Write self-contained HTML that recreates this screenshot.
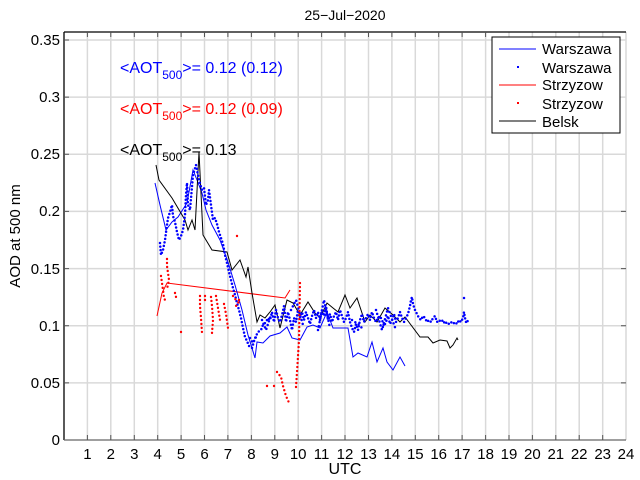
<!DOCTYPE html>
<html><head><meta charset="utf-8"><style>
body{margin:0;background:#fff}
svg{display:block;font-family:"Liberation Sans",sans-serif}
</style></head><body>
<svg width="640" height="480" viewBox="0 0 640 480">
<rect width="640" height="480" fill="#fff"/>
<g stroke="#d9d9d9" stroke-width="1.5">
<line x1="87.4" y1="32" x2="87.4" y2="440"/><line x1="110.8" y1="32" x2="110.8" y2="440"/><line x1="134.3" y1="32" x2="134.3" y2="440"/><line x1="157.7" y1="32" x2="157.7" y2="440"/><line x1="181.1" y1="32" x2="181.1" y2="440"/><line x1="204.5" y1="32" x2="204.5" y2="440"/><line x1="227.9" y1="32" x2="227.9" y2="440"/><line x1="251.4" y1="32" x2="251.4" y2="440"/><line x1="274.8" y1="32" x2="274.8" y2="440"/><line x1="298.2" y1="32" x2="298.2" y2="440"/><line x1="321.6" y1="32" x2="321.6" y2="440"/><line x1="345" y1="32" x2="345" y2="440"/><line x1="368.5" y1="32" x2="368.5" y2="440"/><line x1="391.9" y1="32" x2="391.9" y2="440"/><line x1="415.3" y1="32" x2="415.3" y2="440"/><line x1="438.7" y1="32" x2="438.7" y2="440"/><line x1="462.1" y1="32" x2="462.1" y2="440"/><line x1="485.6" y1="32" x2="485.6" y2="440"/><line x1="509" y1="32" x2="509" y2="440"/><line x1="532.4" y1="32" x2="532.4" y2="440"/><line x1="555.8" y1="32" x2="555.8" y2="440"/><line x1="579.2" y1="32" x2="579.2" y2="440"/><line x1="602.7" y1="32" x2="602.7" y2="440"/><line x1="626" y1="32" x2="626" y2="440"/>
<line x1="64" y1="382.9" x2="626" y2="382.9"/><line x1="64" y1="325.7" x2="626" y2="325.7"/><line x1="64" y1="268.6" x2="626" y2="268.6"/><line x1="64" y1="211.4" x2="626" y2="211.4"/><line x1="64" y1="154.3" x2="626" y2="154.3"/><line x1="64" y1="97.1" x2="626" y2="97.1"/><line x1="64" y1="40" x2="626" y2="40"/>
</g>
<g stroke="#000" stroke-width="1.3" fill="none">
<line x1="64" y1="32" x2="626" y2="32"/>
<line x1="64" y1="32" x2="64" y2="440"/>
<line x1="64" y1="440" x2="626" y2="440" stroke="#666"/>
</g>
<g stroke="#555" stroke-width="1">
<path d="M87.4 440v-5M110.8 440v-5M134.3 440v-5M157.7 440v-5M181.1 440v-5M204.5 440v-5M227.9 440v-5M251.4 440v-5M274.8 440v-5M298.2 440v-5M321.6 440v-5M345 440v-5M368.5 440v-5M391.9 440v-5M415.3 440v-5M438.7 440v-5M462.1 440v-5M485.6 440v-5M509 440v-5M532.4 440v-5M555.8 440v-5M579.2 440v-5M602.7 440v-5"/>
<path d="M87.4 32v5M110.8 32v5M134.3 32v5M157.7 32v5M181.1 32v5M204.5 32v5M227.9 32v5M251.4 32v5M274.8 32v5M298.2 32v5M321.6 32v5M345 32v5M368.5 32v5M391.9 32v5M415.3 32v5M438.7 32v5M462.1 32v5M485.6 32v5"/>
<path d="M64 382.9h5M64 325.7h5M64 268.6h5M64 211.4h5M64 154.3h5M64 97.1h5M64 40h5M626 382.9h-5M626 325.7h-5M626 268.6h-5M626 211.4h-5"/>
</g>
<g font-size="15" fill="#000" text-anchor="end">
<text x="60" y="445">0</text><text x="60" y="388">0.05</text><text x="60" y="331">0.1</text><text x="60" y="274">0.15</text><text x="60" y="216">0.2</text><text x="60" y="159">0.25</text><text x="60" y="102">0.3</text><text x="60" y="45">0.35</text>
</g>
<g font-size="15" fill="#000" text-anchor="middle">
<text x="87.4" y="459">1</text><text x="110.8" y="459">2</text><text x="134.3" y="459">3</text><text x="157.7" y="459">4</text><text x="181.1" y="459">5</text><text x="204.5" y="459">6</text><text x="227.9" y="459">7</text><text x="251.4" y="459">8</text><text x="274.8" y="459">9</text><text x="298.2" y="459">10</text><text x="321.6" y="459">11</text><text x="345" y="459">12</text><text x="368.5" y="459">13</text><text x="391.9" y="459">14</text><text x="415.3" y="459">15</text><text x="438.7" y="459">16</text><text x="462.1" y="459">17</text><text x="485.6" y="459">18</text><text x="509" y="459">19</text><text x="532.4" y="459">20</text><text x="555.8" y="459">21</text><text x="579.2" y="459">22</text><text x="602.7" y="459">23</text><text x="626" y="459">24</text>
<text x="345" y="474" font-size="16">UTC</text>
<text x="345" y="20" font-size="14">25−Jul−2020</text>
</g>
<text transform="translate(20,236) rotate(-90)" font-size="15" text-anchor="middle">AOD at 500 nm</text>
<g font-size="16">
<text x="120" y="73" fill="#0000ff">&lt;AOT<tspan font-size="12" dy="6">500</tspan><tspan dy="-6">&gt;= 0.12 (0.12)</tspan></text>
<text x="120" y="114" fill="#ff0000">&lt;AOT<tspan font-size="12" dy="6">500</tspan><tspan dy="-6">&gt;= 0.12 (0.09)</tspan></text>
<text x="120" y="155" fill="#000">&lt;AOT<tspan font-size="12" dy="6">500</tspan><tspan dy="-6">&gt;= 0.13</tspan></text>
</g>
<polyline fill="none" stroke="#ff0000" stroke-width="1" points="157,316 162,293 167,283 285,298 290,290"/>
<polyline fill="none" stroke="#0000ff" stroke-width="1" points="155,183 160,205 166,230 172,222 178,217 187,203 193,170 197,180 202,193 206,210 212,225 220,240 228,262 235,285 242,310 248,335 255,358 257,342 263,343 270,336 280,333 287,327 292,338 300,340 307,327 313,325 320,328 327,312 333,328 338,328 348,328 353,357 358,353 367,357 372,342 377,362 383,348 387,362 393,370 400,357 405,366"/>
<polyline fill="none" stroke="#000" stroke-width="1" points="156,165 159,180 172,198 185,220 188,230 192,220 195,230 199,152 203,235 212,250 227,252 232,270 240,260 246,277 248,267 252,293 257,322 260,315 265,318 270,312 275,305 280,328 287,300 293,303 300,315 308,302 315,313 320,318 327,303 333,308 338,312 345,295 350,308 357,298 365,322 370,315 377,322 385,308 393,315 400,322 405,317 420,337 428,337 433,343 440,340 447,341 450,348 453,345 457,338 458,340"/>
<polyline fill="none" stroke="#0000ff" stroke-width="2.5" stroke-linecap="round" stroke-dasharray="0 3.6" points="160,243 161,255 163,250 165,240 167,225 168,218 170,212 172,205 173,216 175,222 177,232 179,240 181,236 183,230 185,215 186,195 187,183 188,205 190,210 193,175 196,165 199,180 202,190 204,188 206,205 208,200 209,190 211,205 213,220 215,218 217,224 219,232 221,238 223,244 225,255 227,263 229,272 231,280 233,288 235,295 237,303 239,310 241,318 243,328 245,337 247,341 249,346 252,348 255,338 258,332 261,330 263,325 266,322 268,318 270,320 272,312 274,322 276,310 278,318 280,322 282,315 284,306 286,322 288,312 290,320 292,330 294,318 296,322 298,310 300,318 302,312 304,320 306,312 308,318 310,324 312,316 314,310 316,318 318,312 320,320 322,310 324,316 326,306 328,320 330,314 332,322 334,316 336,312 338,320 340,310 342,316 344,322 346,318 348,312 350,322 352,328 354,332 356,324 358,330 360,320 362,314 364,322 366,318 368,314 370,320 372,312 374,318 376,322 378,318 380,316 382,320 384,326 386,322 388,316 390,324 392,320 394,314 396,322 398,318 400,312 402,318 404,322 406,318 408,314 410,306 411,300 412,297 413,304 415,310 417,314 419,318 421,320 423,316 425,318 427,322 429,320 431,322 433,318 435,316 437,322 439,320 441,322 443,320 445,324 447,322 449,324 451,322 453,324 455,322 457,324 459,320 461,322 463,318 464,312 465,318 466,322 467,320 468,322"/>
<g fill="none" stroke="#0000ff" stroke-width="2.5" stroke-linecap="round" stroke-dasharray="0 4">
<polyline points="464,298 464,302"/>
<polyline points="250,338 253,343 257,335"/>
<polyline points="262,320 266,330 271,315"/>
<polyline points="291,310 296,300 303,325"/>
<polyline points="318,330 324,300 330,328"/>
<polyline points="352,320 358,324 364,330"/>
<polyline points="376,310 382,330 388,308 396,330"/>
</g>
<g fill="none" stroke="#ff0000" stroke-width="2.4" stroke-linecap="round" stroke-dasharray="0 4">
<polyline points="161,276 162,283 163,290 164,298 165,300"/>
<polyline points="167,259 167,266 168,273 169,280 167,289"/>
<polyline points="181,332 181,333"/>
<polyline points="175,293 176,297"/>
<polyline points="200,296 200,306 201,318 202,333"/>
<polyline points="205,296 205,302"/>
<polyline points="211,297 212,306 213,320 212,333"/>
<polyline points="216,296 218,308 220,320"/>
<polyline points="224,304 226,314 228,328"/>
<polyline points="237,236 238,234"/>
<polyline points="233,296 236,300 240,300 236,306"/>
<polyline points="267,386 268,386"/>
<polyline points="274,386 275,389"/>
<polyline points="277,372 281,377 283,386 286,396 290,405"/>
<polyline points="296,387 297,372 298,356 299,340 300,282"/>
</g>
<rect x="492" y="37" width="128" height="96" fill="#fff" stroke="#000" stroke-width="1"/>
<g font-size="15">
<line x1="499" y1="49" x2="536" y2="49" stroke="#0000ff"/><text x="542" y="54">Warszawa</text>
<rect x="517" y="66" width="2" height="2" fill="#0000ff"/><text x="542" y="73">Warszawa</text>
<line x1="499" y1="85" x2="536" y2="85" stroke="#ff0000"/><text x="542" y="90">Strzyzow</text>
<rect x="517" y="102" width="2" height="2" fill="#ff0000"/><text x="542" y="109">Strzyzow</text>
<line x1="499" y1="121" x2="536" y2="121" stroke="#000"/><text x="542" y="127">Belsk</text>
</g>
</svg>
</body></html>
